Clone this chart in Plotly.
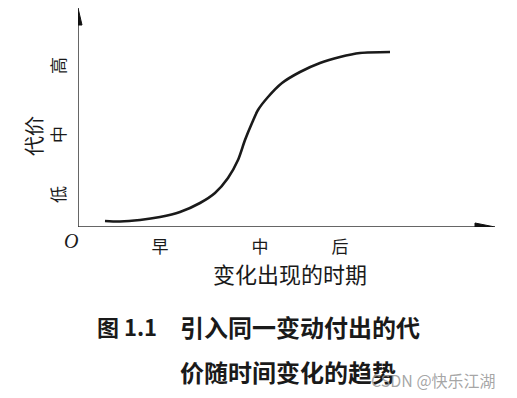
import plotly.graph_objects as go

# Curve (time vs. cost, arbitrary units)
time_vals = [0.27, 0.42, 0.62, 0.82, 1.02, 1.22, 1.37, 1.50, 1.60, 1.67, 1.74, 1.80, 1.90, 2.04, 2.22, 2.42, 2.62, 2.82, 3.12]
cost_vals = [0.06, 0.055, 0.07, 0.10, 0.15, 0.24, 0.34, 0.49, 0.67, 0.87, 1.04, 1.17, 1.30, 1.44, 1.55, 1.64, 1.70, 1.74, 1.75]

x_tick_vals = [0.82, 1.82, 2.62]
x_tick_text = ["早", "中", "后"]
y_tick_vals = [0.30, 0.90, 1.59]
y_tick_text = ["低", "中", "高"]

x_title = "变化出现的时期"
y_title = "代价"
fig_label = "图 1.1"
caption1 = "引入同一变动付出的代"
caption2 = "价随时间变化的趋势"
watermark = "CSDN @快乐江湖"

OFF = 8  # page body margin
W, H = 517 - OFF, 398 - OFF
L, R, T, B = 78 - OFF, 22, 0, 171
pw, ph = W - L - R, H - T - B
XMAX, YMAX = pw / 100, ph / 100

def px(x):
    return (x - OFF - L) / pw

def py(y):
    return (H - B - (y - OFF)) / ph

INK = "#1a1a1a"
CJK = "Noto Sans CJK SC"

fig = go.Figure()
fig.add_trace(go.Scatter(x=time_vals, y=cost_vals, mode="lines",
                         line=dict(color=INK, width=2.6, shape="spline", smoothing=0.8),
                         hoverinfo="skip", showlegend=False))

# axis lines with arrowheads
fig.add_shape(type="line", x0=0, y0=0, x1=0, y1=YMAX - 0.14, xref="x", yref="y",
              line=dict(color="#333", width=1.5))
fig.add_shape(type="line", x0=0, y0=0, x1=XMAX - 0.18, y1=0, xref="x", yref="y",
              line=dict(color="#333", width=1.5))
fig.add_shape(type="path", xref="x", yref="y",
              path=f"M -0.04 {YMAX-0.17} L 0 {YMAX} L 0.04 {YMAX-0.17} Z",
              fillcolor="#111", line=dict(color="#111", width=1))
fig.add_shape(type="path", xref="x", yref="y",
              path=f"M {XMAX-0.20} -0.04 L {XMAX} 0 L {XMAX-0.20} 0.04 Z",
              fillcolor="#111", line=dict(color="#111", width=1))

anns = [
    dict(x=px(71), y=py(241), text="<i>O</i>", font=dict(family="Liberation Serif", size=20, color=INK)),
    dict(x=px(290), y=py(273), text=x_title, font=dict(family=CJK, size=22, color=INK)),
    dict(x=px(33), y=py(136), text=y_title, textangle=-90, font=dict(family=CJK, size=20, color=INK)),
    dict(x=px(95), y=py(326), text="<b>" + fig_label + "</b>", xanchor="left",
         font=dict(family=CJK, size=22, color=INK)),
    dict(x=px(178), y=py(326), text="<b>" + caption1 + "</b>", xanchor="left",
         font=dict(family=CJK, size=24, color=INK)),
    dict(x=px(178), y=py(371), text="<b>" + caption2 + "</b>", xanchor="left",
         font=dict(family=CJK, size=24, color=INK)),
    dict(x=px(369), y=py(380), text=watermark, xanchor="left",
         font=dict(family=CJK, size=16, color="rgba(150,150,150,0.85)")),
]
for a in anns:
    a.setdefault("xanchor", "center")
    fig.add_annotation(xref="paper", yref="paper", yanchor="middle", showarrow=False, **a)

fig.update_layout(
    width=W, height=H,
    margin=dict(l=L, r=R, t=T, b=B),
    paper_bgcolor="white", plot_bgcolor="white",
    xaxis=dict(range=[0, XMAX], showgrid=False, zeroline=False, showline=False,
               tickvals=x_tick_vals, ticktext=x_tick_text, ticks="outside", ticklen=5,
               tickcolor="rgba(0,0,0,0)", tickfont=dict(family=CJK, size=17, color=INK),
               fixedrange=True),
    yaxis=dict(range=[0, YMAX], showgrid=False, zeroline=False, showline=False,
               tickvals=y_tick_vals, ticktext=y_tick_text, ticks="outside", ticklen=5,
               tickcolor="rgba(0,0,0,0)", tickangle=-90,
               tickfont=dict(family=CJK, size=17, color=INK), fixedrange=True),
)

fig.write_html("out.html", config={"displayModeBar": False})
